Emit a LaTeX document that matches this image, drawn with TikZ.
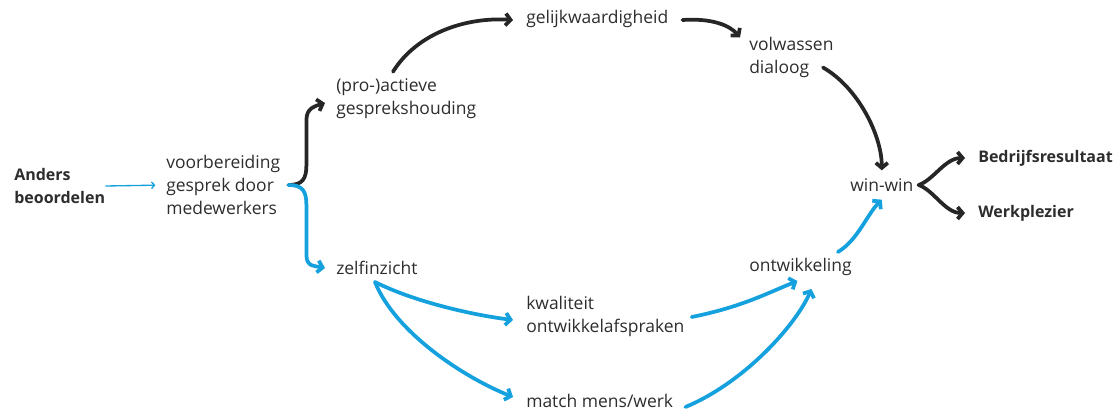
\documentclass[tikz,border=0pt]{standalone}
\usepackage{fontspec}
\setmainfont{Open Sans}
\usetikzlibrary{calc,arrows.meta}
\definecolor{pijlzwart}{RGB}{38,38,38}
\definecolor{pijlblauw}{RGB}{21,161,222}
\definecolor{tekst}{RGB}{45,45,45}
\tikzset{>={Straight Barb[length=3.8pt,width=9pt]}}
\tikzset{
  term/.style={anchor=west,align=left,inner sep=0pt,text=tekst,
    font=\fontsize{13.1}{17.25}\selectfont},
  kop/.style={term,font=\fontsize{12}{17.25}\selectfont\bfseries},
  zwart/.style={->,line width=2.8pt,pijlzwart,line cap=round},
  blauw/.style={->,line width=2.8pt,pijlblauw,line cap=round},
  dun/.style={-{Straight Barb[length=2.2pt,width=5pt]},line width=1pt,pijlblauw}
}

\begin{document}
\begin{tikzpicture}[x=.75pt,y=-.75pt]
\useasboundingbox (0,0) rectangle (1117,411);

\node[kop]  (anders)  at (14,186)  {Anders\\beoordelen};
\node[term] (vb)      at (166,185) {voorbereiding\\gesprek door\\medewerkers};
\node[term] (pro)     at (336,99)  {(pro-)actieve\\gesprekshouding};
\node[term] (gelijk)  at (526,19)  {gelijkwaardigheid};
\node[term] (vol)     at (749,57)  {volwassen\\dialoog};
\node[term] (win)     at (850,185) {win-win};
\node[kop]  (bedrijf) at (978,158) {Bedrijfsresultaat};
\node[kop]  (werk)    at (978,213) {Werkplezier};
\node[term] (zelf)    at (336,268) {zelfinzicht};
\node[term] (kwal)    at (526,316) {kwaliteit\\ontwikkelafspraken};
\node[term] (match)   at (526,401) {match mens/werk};
\node[term] (ontw)    at (749,267) {ontwikkeling};

\draw[dun,shorten >=8pt] (anders.east) -- (vb.west);
\coordinate (split) at ($(vb.east)+(8,0)$);

% boven: zwart
\draw[zwart] (split) .. controls +(14,0) and +(0,14) .. ($(split)+(18,-20)$)
  -- ++(0,-45) .. controls +(0,-12) and +(-10,3) .. ($(pro.west)+(-11,4)$);
\draw[zwart] ($(pro.north west)+(57,-7)$) .. controls +(25,-40) and +(-45,-3) .. ($(gelijk.west)+(-13,1)$);
\draw[zwart] ($(gelijk.east)+(14,1)$) .. controls +(30,-2) and +(-10,-12) .. ($(vol.north west)+(-9,1)$);
\draw[zwart] ($(vol.south west)+(74,-10)$) .. controls +(35,20) and +(0,-35) .. ($(win.north)+(0,-8)$);
\draw[zwart] ($(win.east)+(5,0)$) .. controls +(15,-5) and +(-20,0) .. ($(bedrijf.west)+(-13,0)$);
\draw[zwart] ($(win.east)+(5,0)$) .. controls +(15,5) and +(-20,0) .. ($(werk.west)+(-13,0)$);

% onder: blauw
\draw[blauw] (split) .. controls +(14,0) and +(0,-14) .. ($(split)+(18,20)$)
  -- ++(0,50) .. controls +(0,12) and +(-10,-2) .. ($(zelf.west)+(-11,0)$);
\draw[blauw] ($(zelf.south west)+(39,7)$) .. controls +(40,20) and +(-40,-5) .. ($(kwal.west)+(-13,4)$);
\draw[blauw] ($(zelf.south west)+(39,7)$) .. controls +(20,50) and +(-50,-20) .. ($(match.west)+(-13,-4)$);
\draw[blauw] ($(kwal.east)+(7,1)$) .. controls +(50,-10) and +(-30,12) .. ($(ontw.south)+(-3,5)$);
\draw[blauw] ($(match.east)+(12,6)$) .. controls +(60,-25) and +(-15,35) .. ($(ontw.south)+(11,13)$);
\draw[blauw] ($(ontw.north east)+(-14,-6)$) .. controls +(20,-12) and +(-15,15) .. ($(win.south)+(0,8)$);
\end{tikzpicture}
\end{document}
